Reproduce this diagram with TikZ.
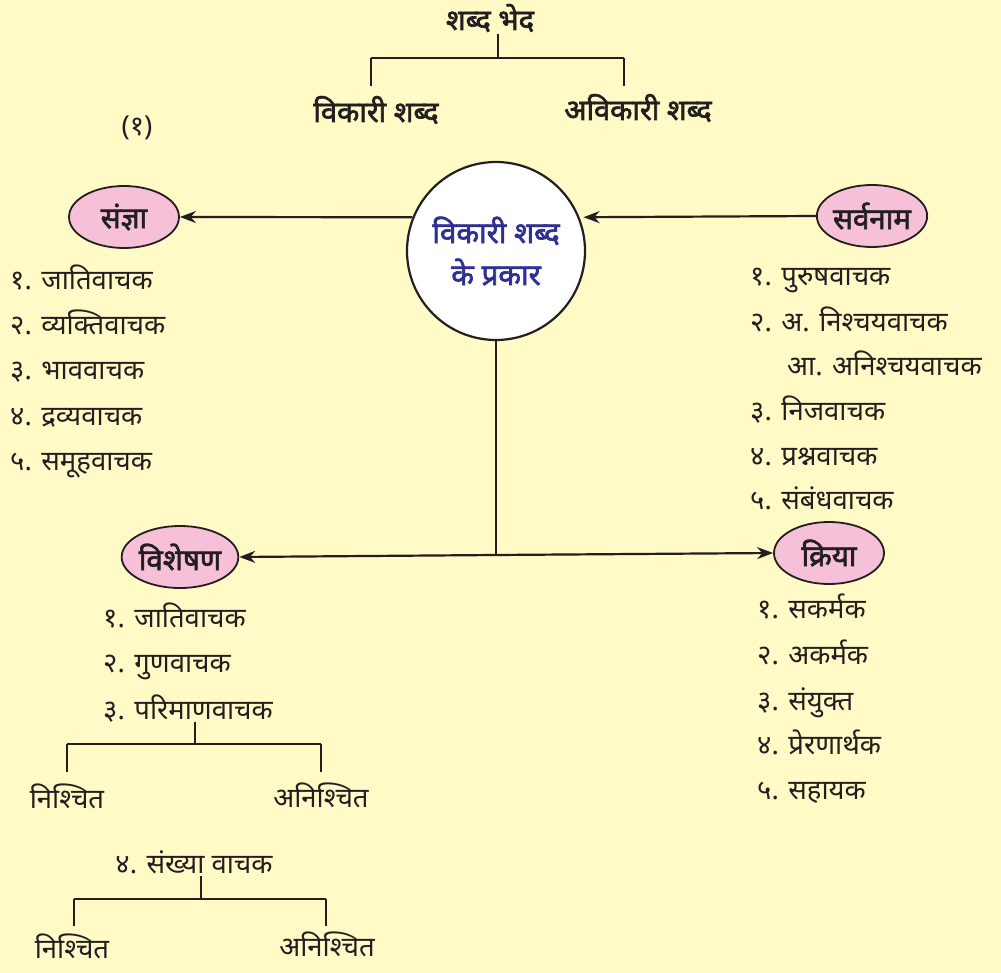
\documentclass[tikz,border=0pt]{standalone}
\usepackage{fontspec}
\newfontfamily\dev[Script=Devanagari]{Noto Sans}
\newfontfamily\devb[Script=Devanagari,FakeBold=2.2]{Noto Sans}
\usetikzlibrary{arrows.meta,shapes.geometric}
\definecolor{bgyel}{RGB}{255,250,198}
\definecolor{pinkfill}{RGB}{245,192,216}
\definecolor{darkblue}{RGB}{46,49,146}
\definecolor{ink}{RGB}{35,31,32}
\begin{document}
\begin{tikzpicture}[x=1pt,y=-1pt,
  txt/.style={font=\dev\fontsize{27.5}{30}\selectfont, inner sep=0pt, text=ink, anchor=base west},
  sub/.style={font=\dev\fontsize{27.5}{30}\selectfont, inner sep=0pt, text=ink, anchor=base},
  head/.style={font=\devb\fontsize{29}{32}\selectfont, inner sep=0pt, text=ink, anchor=base},
  cat/.style={ellipse, draw=ink, line width=1.8pt, fill=pinkfill, minimum width=110pt, minimum height=62pt, inner sep=0pt, font=\devb\fontsize{29.5}{32}\selectfont, text=ink},
  arr/.style={-{Stealth[length=16pt,width=12pt]}, line width=2.2pt, draw=ink},
  ln/.style={line width=2.3pt, draw=ink}]
\useasboundingbox[fill=bgyel] (0,0) rectangle (1001,973);

% top tree
\node[head] (sb) at (490,30) {शब्द भेद};
\node[head] (vs) at (376,122) {विकारी शब्द};
\node[head] (avs) at (638,120) {अविकारी शब्द};
\coordinate (t0) at (498,34);
\coordinate (t1) at (498,58);
\coordinate (tl) at (371,58);
\coordinate (tr) at (624,58);
\coordinate (tlb) at (371,86);
\coordinate (trb) at (624,86);
\draw[ln] (t0) -- (t1);
\draw[ln] (tl) -- (tr);
\draw[ln] (tl) -- (tlb);
\draw[ln] (tr) -- (trb);

\node[sub] (num) at (137,136) {(१)};

% centre circle
\node[circle, draw=ink, line width=2.2pt, fill=white, minimum size=178pt, inner sep=0pt,
      align=center, text=darkblue, font=\devb\fontsize{29.5}{42}\selectfont] (c) at (496,251) {विकारी शब्द\\के प्रकार};

% categories
\node[cat] (sanjna) at (124,217) {संज्ञा};
\node[cat] (sarva) at (872,216) {सर्वनाम};
\node[cat] (vish) at (180,557) {विशेषण};
\node[cat] (kriya) at (829,553) {क्रिया};

\draw[arr] (c.158) -- (sanjna.east);
\draw[arr, shorten >=4pt] (sarva.west) -- (c.22);
\coordinate (j) at (496,555);
\draw[ln, line width=2.2pt] (c.south) -- (j);
\draw[arr] (j) -- (vish.east);
\draw[arr] (j) -- (kriya.west);

% sanjna list
\node[txt] (a1) at (10,290) {१. जातिवाचक};
\node[txt] (a2) at (10,335) {२. व्यक्तिवाचक};
\node[txt] (a3) at (10,380) {३. भाववाचक};
\node[txt] (a4) at (10,425) {४. द्रव्यवाचक};
\node[txt] (a5) at (10,470) {५. समूहवाचक};

% sarvanam list
\node[txt] (b1) at (750,286) {१. पुरुषवाचक};
\node[txt] (b2) at (750,332) {२. अ. निश्चयवाचक};
\node[txt] (b3) at (787,376) {आ. अनिश्चयवाचक};
\node[txt] (b4) at (750,420) {३. निजवाचक};
\node[txt] (b5) at (750,465) {४. प्रश्नवाचक};
\node[txt] (b6) at (750,509) {५. संबंधवाचक};

% visheshan list
\node[txt] (v1) at (103,627) {१. जातिवाचक};
\node[txt] (v2) at (103,672) {२. गुणवाचक};
\node[txt] (v3) at (103,719) {३. परिमाणवाचक};

\coordinate (p0) at (195,722);
\coordinate (p1) at (195,744);
\coordinate (pl) at (67,744);
\coordinate (pr) at (321,744);
\coordinate (plb) at (67,772);
\coordinate (prb) at (321,772);
\draw[ln] (p0) -- (p1);
\draw[ln] (pl) -- (pr);
\draw[ln] (pl) -- (plb);
\draw[ln] (pr) -- (prb);
\node[sub] (n1) at (67,808) {निश्चित};
\node[sub] (an1) at (321,807) {अनिश्चित};

\node[sub] (v4) at (194,873) {४. संख्या वाचक};
\coordinate (q0) at (201,876);
\coordinate (q1) at (201,899);
\coordinate (ql) at (74,899);
\coordinate (qr) at (326,899);
\coordinate (qlb) at (74,926);
\coordinate (qrb) at (326,926);
\draw[ln] (q0) -- (q1);
\draw[ln] (ql) -- (qr);
\draw[ln] (ql) -- (qlb);
\draw[ln] (qr) -- (qrb);
\node[sub] (n2) at (72,958) {निश्चित};
\node[sub] (an2) at (327,956) {अनिश्चित};

% kriya list
\node[txt] (k1) at (757,618) {१. सकर्मक};
\node[txt] (k2) at (757,664) {२. अकर्मक};
\node[txt] (k3) at (757,710) {३. संयुक्त};
\node[txt] (k4) at (757,754) {४. प्रेरणार्थक};
\node[txt] (k5) at (757,799) {५. सहायक};
\end{tikzpicture}
\end{document}
